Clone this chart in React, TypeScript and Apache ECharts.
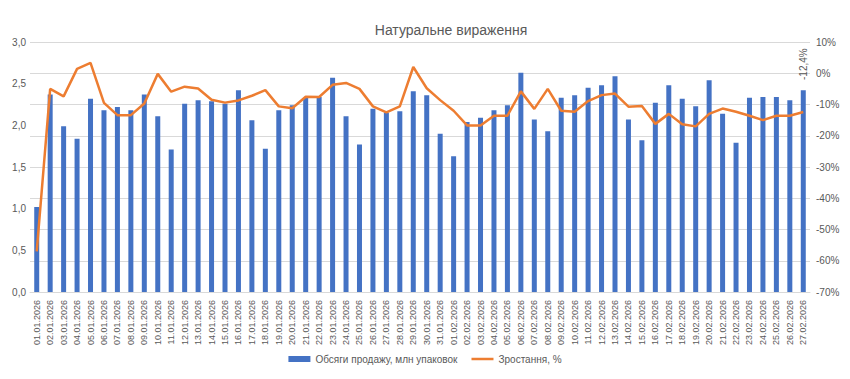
import React, { useEffect, useRef } from "react";
import * as echarts from "echarts";

const dates = [
  "01.01.2026","02.01.2026","03.01.2026","04.01.2026","05.01.2026","06.01.2026","07.01.2026","08.01.2026","09.01.2026","10.01.2026",
  "11.01.2026","12.01.2026","13.01.2026","14.01.2026","15.01.2026","16.01.2026","17.01.2026","18.01.2026","19.01.2026","20.01.2026",
  "21.01.2026","22.01.2026","23.01.2026","24.01.2026","25.01.2026","26.01.2026","27.01.2026","28.01.2026","29.01.2026","30.01.2026",
  "31.01.2026","01.02.2026","02.02.2026","03.02.2026","04.02.2026","05.02.2026","06.02.2026","07.02.2026","08.02.2026","09.02.2026",
  "10.02.2026","11.02.2026","12.02.2026","13.02.2026","14.02.2026","15.02.2026","16.02.2026","17.02.2026","18.02.2026","19.02.2026",
  "20.02.2026","21.02.2026","22.02.2026","23.02.2026","24.02.2026","25.02.2026","26.02.2026","27.02.2026",
];

const salesVolume = [
  1.02, 2.37, 1.99, 1.84, 2.32, 2.18, 2.22, 2.18, 2.37, 2.11,
  1.71, 2.26, 2.30, 2.29, 2.26, 2.42, 2.06, 1.72, 2.18, 2.24,
  2.33, 2.34, 2.57, 2.11, 1.77, 2.20, 2.15, 2.17, 2.41, 2.36,
  1.90, 1.63, 2.04, 2.09, 2.18, 2.24, 2.63, 2.07, 1.93, 2.33,
  2.36, 2.45, 2.48, 2.59, 2.07, 1.82, 2.27, 2.48, 2.32, 2.23,
  2.54, 2.14, 1.79, 2.33, 2.34, 2.34, 2.30, 2.42,
];

const growth = [
  -57.0, -5.0, -7.4, 1.4, 3.3, -9.5, -13.4, -13.4, -9.7, -0.2,
  -5.9, -4.3, -4.9, -8.5, -9.4, -8.7, -7.2, -5.4, -10.6, -11.2,
  -7.5, -7.6, -3.7, -3.1, -5.0, -10.6, -12.5, -10.6, 2.0, -4.8,
  -8.6, -12.0, -16.7, -16.7, -13.6, -13.6, -5.8, -11.4, -5.0, -12.0,
  -12.3, -8.9, -7.0, -6.5, -10.7, -10.5, -16.2, -13.0, -16.3, -17.0,
  -13.0, -11.3, -12.3, -13.6, -15.0, -13.6, -13.6, -12.4,
];

const BAR_NAME = "Обсяги продажу, млн упаковок";
const LINE_NAME = "Зростання, %";
const TITLE = "Натуральне вираження";

const FONT = "'Liberation Sans', Arial, sans-serif";
const TXT = "#595959";

export default function App() {
  const ref = useRef<HTMLDivElement>(null);

  useEffect(() => {
    if (!ref.current) return;
    const chart = echarts.init(ref.current, null, { renderer: "svg" });
    const last = growth.length - 1;
    const lineData = growth.map((v, i) =>
      i === last
        ? {
            value: v,
            label: {
              show: true,
              position: "top",
              distance: 32,
              rotate: 90,
              align: "left",
              verticalAlign: "middle",
              color: TXT,
              fontFamily: FONT,
              fontSize: 10,
              formatter: (p: any) => p.value.toFixed(1).replace(".", ",") + "%",
            },
          }
        : v
    );

    chart.setOption({
      animation: false,
      textStyle: { fontFamily: FONT },
      title: {
        text: TITLE,
        left: 446,
        textAlign: "center",
        top: 18,
        textStyle: { color: TXT, fontSize: 14, fontWeight: "normal", fontFamily: FONT },
      },
      legend: {
        bottom: 10,
        left: "center",
        itemGap: 14,
        itemWidth: 22,
        itemHeight: 6,
        textStyle: { color: TXT, fontSize: 10, fontFamily: FONT },
        data: [
          { name: BAR_NAME, icon: "rect" },
          { name: LINE_NAME, icon: "path://M0,0 L22,0 L22,2.5 L0,2.5 Z" },
        ],
      },
      grid: { left: 30, right: 40, top: 42, bottom: 87, containLabel: false },
      xAxis: {
        type: "category",
        data: dates,
        axisTick: { show: false },
        axisLine: { show: true, lineStyle: { color: "#d9d9d9" } },
        axisLabel: {
          interval: 0,
          rotate: 90,
          color: TXT,
          fontSize: 9,
          margin: 8,
          fontFamily: FONT,
        },
      },
      yAxis: [
        {
          type: "value",
          min: 0,
          max: 3,
          interval: 0.5,
          splitLine: { show: false },
          axisLine: { show: false },
          axisTick: { show: false },
          axisLabel: {
            color: TXT,
            fontSize: 10,
            margin: 4,
            fontFamily: FONT,
            formatter: (v: number) => v.toFixed(1).replace(".", ","),
          },
        },
        {
          type: "value",
          min: -70,
          max: 10,
          interval: 10,
          splitLine: { show: true, lineStyle: { color: "#d9d9d9", width: 1 } },
          axisLine: { show: false },
          axisTick: { show: false },
          axisLabel: {
            color: TXT,
            fontSize: 10,
            margin: 6,
            fontFamily: FONT,
            formatter: (v: number) => v + "%",
          },
        },
      ],
      series: [
        {
          name: BAR_NAME,
          type: "bar",
          yAxisIndex: 0,
          data: salesVolume,
          barWidth: 5,
          itemStyle: { color: "#4472C4" },
        },
        {
          name: LINE_NAME,
          type: "line",
          yAxisIndex: 1,
          data: lineData,
          symbol: "circle",
          symbolSize: 0,
          showSymbol: true,
          lineStyle: { color: "#ED7D31", width: 2.5 },
          itemStyle: { color: "#ED7D31" },
          z: 3,
        },
      ],
    });

    return () => chart.dispose();
  }, []);

  return (
    <div
      ref={ref}
      style={{ position: "absolute", left: 0, top: 0, width: 850, height: 379, background: "#fff" }}
    />
  );
}
